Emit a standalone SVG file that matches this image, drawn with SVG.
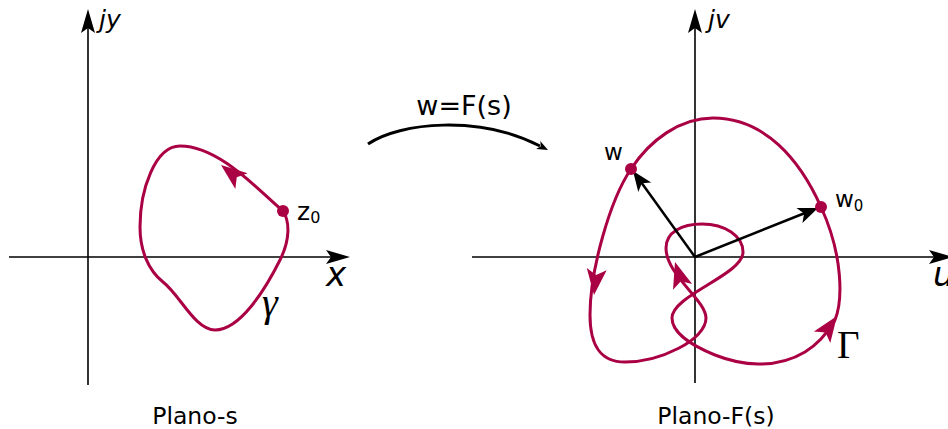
<svg xmlns="http://www.w3.org/2000/svg" xmlns:xlink="http://www.w3.org/1999/xlink" width="948" height="429" viewBox="0 0 948 429">
<style>
.axis{stroke:#000;stroke-width:1.6;fill:none}
.curve{stroke:#aa0044;stroke-width:3;fill:none;stroke-linejoin:round}
.vec{stroke:#000;stroke-width:2.5;fill:none}
.red{fill:#aa0044}
.blk{fill:#000}
.lbl{font-family:"DejaVu Sans","Liberation Sans",sans-serif;fill:#000}
.it{font-style:italic}
.ser{font-family:"Liberation Serif","DejaVu Serif",serif;fill:#000}
</style>
<defs>
<path id="axhead" d="M0,0 L-24,-7 L-19,0 L-24,7 Z"/>
<path id="crhead" d="M0,0 L-26,-10 L-20,0 L-26,10 Z"/>
<path id="vhead" d="M0,0 L-20,-8 L-15,0 L-20,8 Z"/>
<path id="shead" d="M0,0 L-11,-4.5 L-8,0 L-11,4.5 Z"/>
</defs>

<g id="plane-s">
  <g id="axes-s">
    <line class="axis" x1="88" y1="385" x2="88" y2="22"/>
    <use href="#axhead" class="blk" transform="translate(88,9) rotate(-90)"/>
    <line class="axis" x1="9" y1="257" x2="338" y2="257"/>
    <use href="#axhead" class="blk" transform="translate(350,257)"/>
    <text class="lbl it" x="99" y="28" font-size="25">jy</text>
    <text class="lbl it" x="326" y="286" font-size="34">x</text>
  </g>
  <g id="gamma">
    <path class="curve" d="M283,211 C260,192 220,146 180,146 C155,146 140,190 140,227 C140,250 148,270 163,282 C180,295 195,330 215,330 C240,330 265,290 280,260 C290,240 290,222 283,211 Z"/>
    <use href="#crhead" class="red" transform="translate(221,165) rotate(-142)"/>
    <circle class="red" cx="283" cy="211" r="6"/>
    <text class="ser it" x="262" y="316" font-size="40">γ</text>
  </g>
  <g id="z0">
    <text class="lbl" x="297" y="220" font-size="25">z<tspan font-size="16" dy="3">0</tspan></text>
  </g>
  <text class="lbl" x="195" y="424" font-size="23.5" text-anchor="middle">Plano-s</text>
</g>

<g id="mapping">
  <path d="M368,144 C400,122 480,115 540,146" stroke="#000" stroke-width="3" fill="none"/>
  <use href="#shead" class="blk" transform="translate(548,150) rotate(27)"/>
  <text class="lbl" x="464" y="115" font-size="27" text-anchor="middle">w=F(s)</text>
</g>

<g id="plane-F">
  <g id="axes-F">
    <line class="axis" x1="695" y1="383" x2="695" y2="22"/>
    <use href="#axhead" class="blk" transform="translate(695,9) rotate(-90)"/>
    <line class="axis" x1="472" y1="257" x2="940" y2="257"/>
    <use href="#axhead" class="blk" transform="translate(953,257)"/>
    <text class="lbl it" x="708" y="28" font-size="25">jv</text>
    <text class="lbl it" x="933" y="286" font-size="34">u</text>
  </g>
  <g id="Gamma">
    <path class="curve" d="M821,207 C800,160 765,118 713,118 C680,118 650,140 631,169 C610,200 590,270 590,315 C590,345 600,362 625,362 C660,362 706,340 706,318 C706,300 666,275 666,248 C666,232 682,224 702,224 C725,224 743,236 743,252 C743,275 672,295 672,318 C672,332 690,345 715,355 C740,365 775,370 805,352 C818,344 828,332 835,320 C843,300 843,255 821,207 Z"/>
    <use href="#crhead" class="red" transform="translate(594,295) rotate(96)"/>
    <use href="#crhead" class="red" transform="translate(675,262) rotate(-107)"/>
    <use href="#crhead" class="red" transform="translate(837,316) rotate(-55)"/>
    <text class="ser" x="837" y="358" font-size="39">Γ</text>
  </g>
  <g id="vectors">
    <line class="vec" x1="695" y1="257" x2="641" y2="182"/>
    <use href="#vhead" class="blk" transform="translate(633,171) rotate(-126)"/>
    <line class="vec" x1="695" y1="257" x2="805" y2="213"/>
    <use href="#vhead" class="blk" transform="translate(818,208) rotate(-22)"/>
  </g>
  <g id="w">
    <circle class="red" cx="631" cy="169" r="6"/>
    <text class="lbl" x="604" y="160" font-size="23">w</text>
  </g>
  <g id="w0">
    <circle class="red" cx="821" cy="207" r="6"/>
    <text class="lbl" x="835" y="207" font-size="23">w<tspan font-size="15" dy="4">0</tspan></text>
  </g>
  <text class="lbl" x="716" y="424" font-size="23.5" text-anchor="middle">Plano-F(s)</text>
</g>
</svg>
